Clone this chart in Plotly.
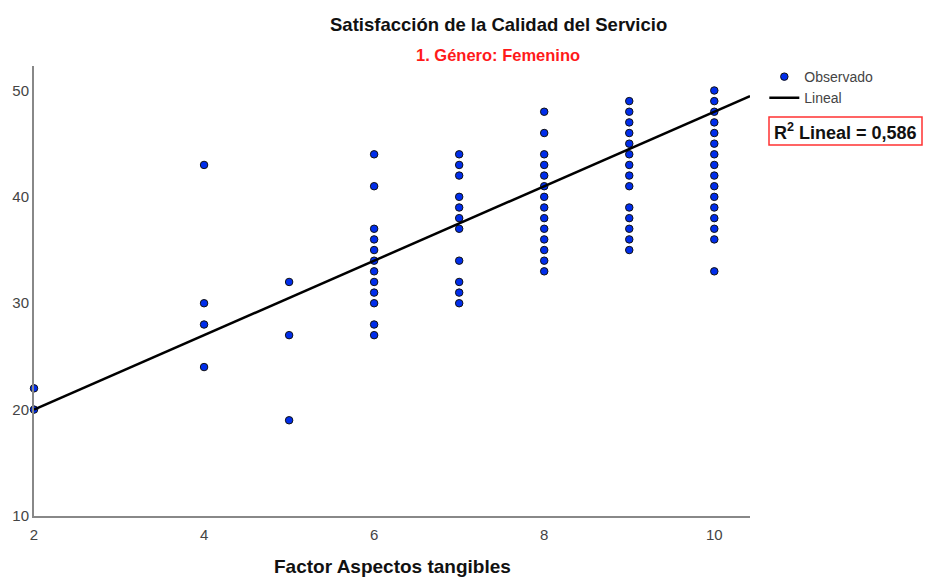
import plotly.graph_objects as go

# Observed data (Factor Aspectos tangibles -> Satisfacción)
x_vals = [2, 4, 5, 6, 7, 8, 9, 10]
y_groups = [
    [22, 20],
    [43, 30, 28, 24],
    [32, 27, 19],
    [44, 41, 37, 36, 35, 34, 33, 32, 31, 30, 28, 27],
    [44, 43, 42, 40, 39, 38, 37, 34, 32, 31, 30],
    [48, 46, 44, 43, 42, 41, 40, 39, 38, 37, 36, 35, 34, 33],
    [49, 48, 47, 46, 45, 44, 43, 42, 41, 39, 38, 37, 36, 35],
    [50, 49, 48, 47, 46, 45, 44, 43, 42, 41, 40, 39, 38, 37, 36, 33],
]
fit_intercept = 13.0
fit_slope = 3.5
r2_text = "0,586"
x_range = [2, 10.42]
y_range = [10, 52.3]

xs, ys = [], []
for xv, grp in zip(x_vals, y_groups):
    for yv in grp:
        xs.append(xv)
        ys.append(yv)

line_x = [x_range[0], x_range[1]]
line_y = [fit_intercept + fit_slope * v for v in line_x]

fig = go.Figure()
fig.add_trace(go.Scatter(
    x=xs, y=ys, mode="markers", name="Observado",
    marker=dict(color="rgb(0,45,235)", size=7.5, line=dict(color="#111", width=1)),
    cliponaxis=False,
))
fig.add_trace(go.Scatter(
    x=line_x, y=line_y, mode="lines", name="Lineal",
    line=dict(color="black", width=2.5),
))

fig.update_layout(
    width=925, height=577,
    margin=dict(l=34, r=175, t=66, b=61, autoexpand=False),
    paper_bgcolor="white", plot_bgcolor="white",
    font=dict(family="Liberation Sans, Arial, sans-serif", color="#444", size=14),
    showlegend=True,
    legend=dict(x=1.02, y=1.011, xanchor="left", yanchor="top",
                font=dict(size=14, color="#444", family="Liberation Sans, Arial"),
                bgcolor="rgba(0,0,0,0)", itemwidth=30, tracegroupgap=0),
    shapes=[
        dict(type="rect", xref="paper", yref="paper",
             x0=(769 - 34) / 716, x1=(922 - 34) / 716,
             y0=(516 - 145) / 450, y1=(516 - 117) / 450,
             line=dict(color="rgb(255,50,50)", width=1.5), fillcolor="rgba(0,0,0,0)"),
    ],
    annotations=[
        dict(text="<b>Satisfacción de la Calidad del Servicio</b>", xref="paper", yref="paper",
             x=(498 - 34) / 716, y=(516 - 24) / 450, xanchor="center", yanchor="middle",
             showarrow=False, font=dict(size=18.5, color="#111", family="Liberation Sans, Arial")),
        dict(text="<b>1. Género: Femenino</b>", xref="paper", yref="paper",
             x=(498 - 34) / 716, y=(516 - 55) / 450, xanchor="center", yanchor="middle",
             showarrow=False, font=dict(size=16.5, color="#ff1a1a", family="Liberation Sans, Arial")),
        dict(text="<b>R<sup>2</sup> Lineal = " + r2_text + "</b>", xref="paper", yref="paper",
             x=(845 - 34) / 716, y=(516 - 131) / 450, xanchor="center", yanchor="middle",
             showarrow=False,
             font=dict(size=18, color="#111", family="Liberation Sans, Arial")),
        dict(text="<b>Factor Aspectos tangibles</b>", xref="paper", yref="paper",
             x=(392 - 34) / 716, y=(516 - 566) / 450, xanchor="center", yanchor="middle",
             showarrow=False, font=dict(size=19, color="#111", family="Liberation Sans, Arial")),
    ],
    xaxis=dict(range=x_range, tickvals=[2, 4, 6, 8, 10], showgrid=False, zeroline=False,
               showline=True, linecolor="#888", linewidth=2, ticks="outside", ticklen=4,
               tickcolor="rgba(0,0,0,0)", automargin=False,
               tickfont=dict(size=15, color="#444", family="Liberation Sans, Arial")),
    yaxis=dict(range=y_range, tickvals=[10, 20, 30, 40, 50], showgrid=False, zeroline=False,
               showline=True, linecolor="#888", linewidth=2, ticks="", automargin=False,
               tickfont=dict(size=15, color="#444", family="Liberation Sans, Arial")),
)

fig.write_html("out.html")
